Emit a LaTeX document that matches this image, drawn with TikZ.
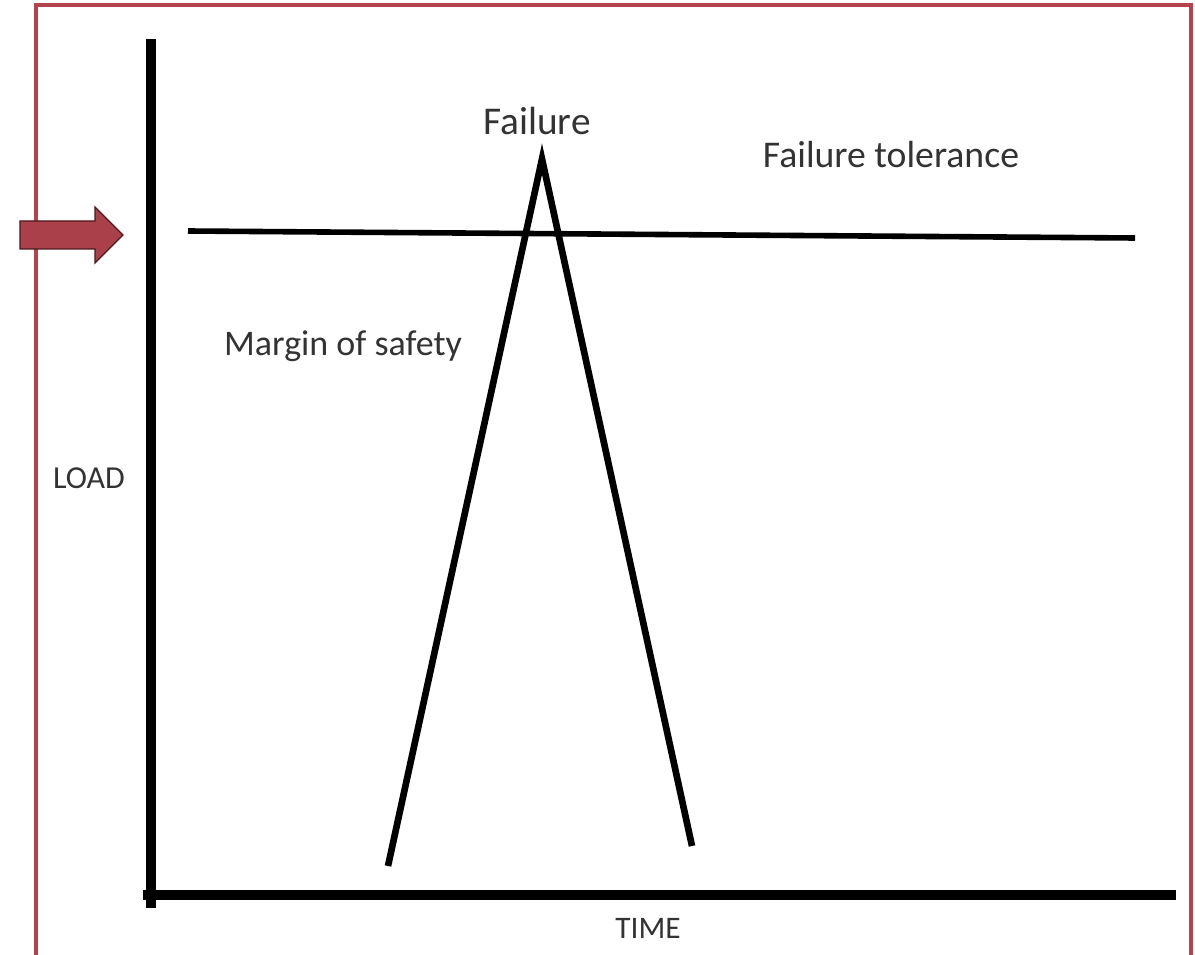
\documentclass[tikz,border=0pt]{standalone}
\usepackage{fontspec}
\setmainfont{Carlito}
\definecolor{frame}{HTML}{B5434B}
\definecolor{arrowfill}{HTML}{A9404A}
\definecolor{arrowline}{HTML}{4E181C}
\definecolor{txt}{HTML}{333333}
\begin{document}
\begin{tikzpicture}[x=0.75pt,y=-0.75pt,
  axis/.style={line width=7.5pt,line cap=rect},
  curve/.style={line width=5pt,line join=miter},
  lbl/.style={text=txt,anchor=base,inner sep=0pt},
]
\useasboundingbox (0,0) rectangle (1195,955);
\fill[white] (0,0) rectangle (1195,955);
% frame
\draw[frame,line width=2.6pt] (36,970) -- (36,5) -- (1191,5) -- (1191,970);
% axes
\coordinate (ytop) at (151,44);
\coordinate (orig) at (151,895);
\coordinate (xend) at (1171,895);
\draw[axis] (ytop) -- (151,903);
\draw[axis] (148,895) -- (xend);
% tolerance line
\coordinate (tolL) at (188,231);
\coordinate (tolR) at (1135,238);
\draw[line width=4.2pt] (tolL) -- (tolR);
% spike
\coordinate (sL) at (388,866);
\coordinate (sT) at (542,159);
\coordinate (sR) at (692,846);
\draw[curve] (sL) -- (sT) -- (sR);
% arrow
\draw[fill=arrowfill,draw=arrowline,line width=1pt,line join=miter]
  (20,221) -- (95,221) -- (95,207) -- (123,235) -- (95,263) -- (95,249) -- (20,249) -- cycle;
% labels
\node[lbl,font=\fontsize{29.5}{32}\selectfont] (fail) at (537,135) {Failure};
\node[lbl,font=\fontsize{28.3}{32}\selectfont] (tol) at (891,168) {Failure tolerance};
\node[lbl,font=\fontsize{27}{30}\selectfont] (mos) at (343,356) {Margin of safety};
\node[lbl,font=\fontsize{24}{26}\selectfont] (load) at (89,488) {LOAD};
\node[lbl,font=\fontsize{23.5}{26}\selectfont] (time) at (648,938) {TIME};
\end{tikzpicture}
\end{document}
